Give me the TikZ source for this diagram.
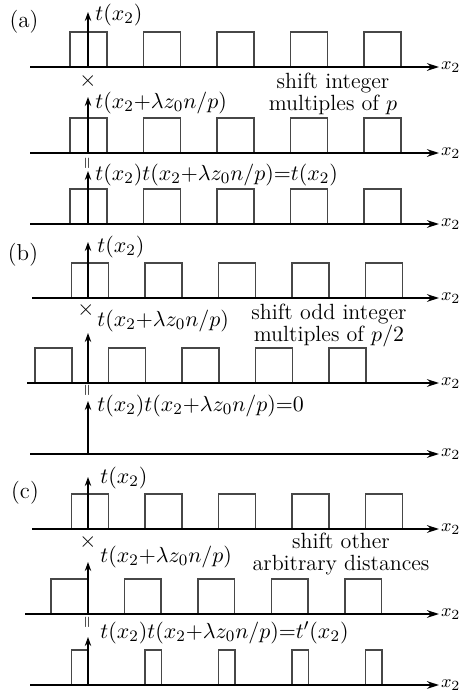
\documentclass[tikz,border=0pt]{standalone}
\usetikzlibrary{arrows.meta}

\begin{document}
\begin{tikzpicture}[
                x=0.5pt, y=-0.5pt,
                >=Stealth,
                font=\fontsize{11}{13}\selectfont,
                pulse/.style={line width=0.9pt, draw=black!72},
                axis/.style={-{Stealth[length=6pt, width=3.8pt]}, line width=0.9pt},
                stem/.style={-{Stealth[length=4.5pt, width=3.2pt]}, line width=1.15pt},
                axislabel/.style={anchor=west, inner sep=0pt, xshift=0.8pt, font=\fontsize{9.5}{11}\selectfont},
                fnlabel/.style={anchor=west, inner sep=0pt, font=\fontsize{10.8}{12}\selectfont},
                oplabel/.style={inner sep=0pt, font=\fontsize{11}{12}\selectfont},
                eqlabel/.style={inner sep=0pt, rotate=90, font=\fontsize{7.5}{8}\selectfont},
                panellabel/.style={inner sep=0pt, font=\fontsize{11.5}{13}\selectfont},
                caption/.style={align=center, inner sep=0pt, font=\fontsize{11}{11}\selectfont},
                ]

                \useasboundingbox (0,0) rectangle (459,699);

                % ── Layout: units are pixels of the sheet ──
                \def\pp{73.5}  % pulse period
                \def\pw{37}    % pulse width
                \def\ph{35}    % pulse height
                \def\xe{439}   % axis end
                \def\xo{88}    % stem position

                % ── Helper: one axis with its origin ──
                \newcommand{\drawaxis}[3]{
                    % #1 = prefix, #2 = axis y, #3 = axis start x
                    \coordinate (#1-s) at (#3, #2);
                    \coordinate (#1-e) at (\xe, #2);
                    \coordinate (#1-o) at (\xo, #2);
                    \draw[axis] (#1-s) -- (#1-e);
                    \node[axislabel] (#1-x) at (#1-e) {$x_2$};
                    }
                % ── Helper: five pulses on an axis ──
                \newcommand{\drawpulses}[3]{
                    % #1 = axis y, #2 = first left edge, #3 = pulse width
                    \foreach \k in {0,...,4} {
                        \draw[pulse] ({#2+\k*\pp}, #1) rectangle ++(#3, -\ph);
                    }
                    }

                    % ── Panel (a): integer multiples of p ──
                    \node[panellabel] (pa) at (24, 22) {(a)};
                    \drawpulses{67}{70}{\pw}
                    \drawpulses{153}{70}{\pw}
                    \drawpulses{224}{70}{\pw}
                    \drawaxis{a1}{67}{30}
                    \drawaxis{a2}{153}{30}
                    \drawaxis{a3}{224}{30}
                    \coordinate (a1-t) at (\xo, 12);
                    \coordinate (a2-t) at (\xo, 97);
                    \coordinate (a3-t) at (\xo, 171);
                    \draw[stem] (a1-o) -- (a1-t);
                    \draw[stem] (a2-o) -- (a2-t);
                    \draw[stem] (a3-o) -- (a3-t);
                    \node[fnlabel] (a1-l) at (95, 15) {$t(x_2)$};
                    \node[fnlabel] (a2-l) at (95, 103) {$t(x_2{+}\lambda z_0 n/p)$};
                    \node[fnlabel] (a3-l) at (95, 175) {$t(x_2)t(x_2{+}\lambda z_0 n/p){=}t(x_2)$};
                    \node[oplabel] (a-times) at (88, 81) {$\times$};
                    \node[eqlabel] (a-eq) at (88, 163) {$=$};
                    \node[caption] (a-cap) at (333, 94) {shift integer\\multiples of $p$};

                    % ── Panel (b): odd integer multiples of p/2 ──
                    \node[panellabel] (pb) at (23, 255) {(b)};
                    \drawpulses{298}{71.5}{\pw}
                    \drawpulses{383}{35}{\pw}
                    \drawaxis{b1}{298}{32}
                    \drawaxis{b2}{383}{27}
                    \drawaxis{b3}{454}{30}
                    \coordinate (b1-t) at (\xo, 242);
                    \coordinate (b2-t) at (\xo, 333);
                    \coordinate (b3-t) at (\xo, 401);
                    \draw[stem] (b1-o) -- (b1-t);
                    \draw[stem] (b2-o) -- (b2-t);
                    \draw[stem] (b3-o) -- (b3-t);
                    \node[fnlabel] (b1-l) at (97, 247) {$t(x_2)$};
                    \node[fnlabel] (b2-l) at (97, 321) {$t(x_2{+}\lambda z_0 n/p)$};
                    \node[fnlabel] (b3-l) at (97, 406) {$t(x_2)t(x_2{+}\lambda z_0 n/p){=}0$};
                    \node[oplabel] (b-times) at (86, 310) {$\times$};
                    \node[eqlabel] (b-eq) at (88, 390) {$=$};
                    \node[caption] (b-cap) at (329, 325) {shift odd integer\\multiples of $p/2$};

                    % ── Panel (c): other arbitrary distances ──
                    \node[panellabel] (pc) at (25, 493) {(c)};
                    \drawpulses{529}{71.5}{\pw}
                    \drawpulses{614}{51}{36.5}
                    \drawpulses{685}{71.5}{16.5}
                    \drawaxis{c1}{529}{32}
                    \drawaxis{c2}{614}{25}
                    \drawaxis{c3}{685}{30}
                    \coordinate (c1-t) at (\xo, 477);
                    \coordinate (c2-t) at (\xo, 562);
                    \coordinate (c3-t) at (\xo, 637);
                    \draw[stem] (c1-o) -- (c1-t);
                    \draw[stem] (c2-o) -- (c2-t);
                    \draw[stem] (c3-o) -- (c3-t);
                    \node[fnlabel] (c1-l) at (100, 478) {$t(x_2)$};
                    \node[fnlabel] (c2-l) at (100, 557) {$t(x_2{+}\lambda z_0 n/p)$};
                    \node[fnlabel] (c3-l) at (100, 633) {$t(x_2)t(x_2{+}\lambda z_0 n/p){=}t'(x_2)$};
                    \node[oplabel] (c-times) at (88, 542) {$\times$};
                    \node[eqlabel] (c-eq) at (88, 622) {$=$};
                    \node[caption] (c-cap) at (341, 554) {shift other\\arbitrary distances};

                \end{tikzpicture}
\end{document}
